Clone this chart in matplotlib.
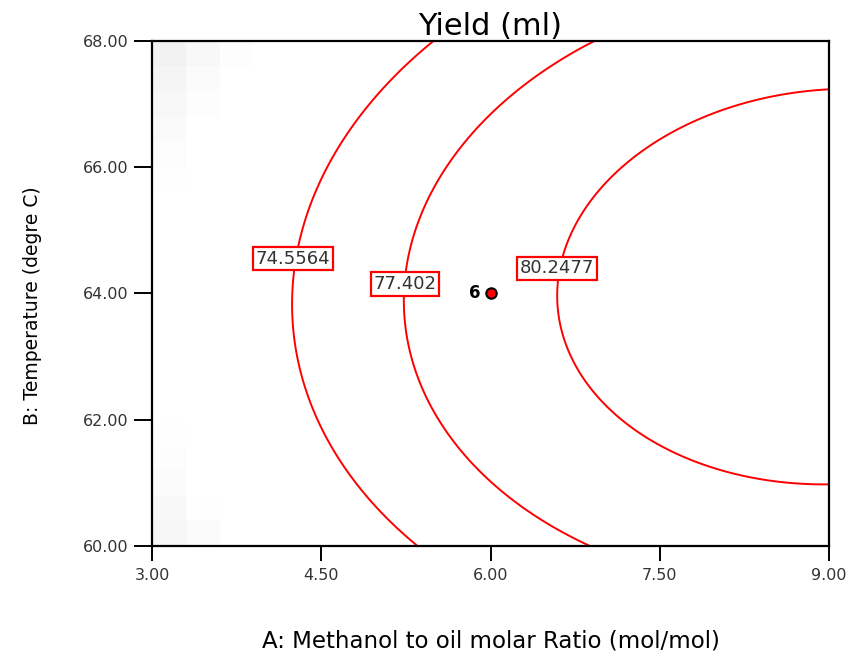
import numpy as np
import matplotlib.pyplot as plt
from matplotlib.colors import LinearSegmentedColormap

plt.rcParams['font.family'] = 'DejaVu Sans'

# factor ranges and ticks
a_ticks = [3.00, 4.50, 6.00, 7.50, 9.00]
b_ticks = [60.00, 62.00, 64.00, 66.00, 68.00]

# quadratic model in coded units: Intercept, A, B, AB, A^2, B^2
coef_values = [79.16, 6.11, -0.115, 0.29, -2.99, -3.325]

contour_levels = [74.5564, 77.402, 80.2477]
label_a = [4.25, 5.24, 6.59]
label_b = [64.55, 64.15, 64.40]

# center point of the design and its replicate count
design_a = [6.00]
design_b = [64.00]
design_reps = [6]


def yield_model(a, b):
    x1 = (a - 6.0) / 3.0
    x2 = (b - 64.0) / 4.0
    b0, b1, b2, b12, b11, b22 = coef_values
    return b0 + b1 * x1 + b2 * x2 + b12 * x1 * x2 + b11 * x1 ** 2 + b22 * x2 ** 2


fig = plt.figure(figsize=(8.58, 6.59), dpi=100)
ax = fig.add_axes([0.1772, 0.1715, 0.789, 0.7663])

# coarse background shading of the response
ca = np.linspace(3.15, 8.85, 20)
cb = np.linspace(60.2, 67.8, 20)
CA, CB = np.meshgrid(ca, cb)
shade = LinearSegmentedColormap.from_list('shade', ['#efefef', '#ffffff'])
ax.imshow(yield_model(CA, CB), extent=[3, 9, 60, 68], origin='lower', aspect='auto',
          cmap=shade, vmin=66.5, vmax=69.9, interpolation='nearest', zorder=0)

ga = np.linspace(3, 9, 300)
gb = np.linspace(60, 68, 300)
GA, GB = np.meshgrid(ga, gb)
ax.contour(GA, GB, yield_model(GA, GB), levels=contour_levels, colors='#ff0000',
           linewidths=1.4, zorder=2)

for lev, xa, yb in zip(contour_levels, label_a, label_b):
    ax.text(xa, yb, f'{lev:g}', ha='center', va='center', fontsize=13, color='#333333',
            bbox=dict(boxstyle='square,pad=0.15', fc='white', ec='#ff0000', lw=1.6), zorder=3)

ax.plot(design_a, design_b, 'o', ms=7.5, mfc='#ff0000', mec='black', mew=1.5, zorder=4)
for xa, yb, n in zip(design_a, design_b, design_reps):
    ax.annotate(str(n), (xa, yb), xytext=(-7, 0), textcoords='offset points',
                ha='right', va='center', fontsize=12, fontweight='bold', color='black')

ax.set_xlim(3, 9)
ax.set_ylim(60, 68)
ax.set_xticks(a_ticks)
ax.set_yticks(b_ticks)
ax.set_xticklabels([f'{v:.2f}' for v in a_ticks])
ax.set_yticklabels([f'{v:.2f}' for v in b_ticks])
ax.tick_params(axis='x', direction='out', length=11, width=1.4, pad=5,
               labelsize=11.5, labelcolor='#333333')
ax.tick_params(axis='y', direction='out', length=13, width=1.4, pad=4,
               labelsize=11.5, labelcolor='#333333')
for sp in ax.spines.values():
    sp.set_linewidth(1.6)

ax.set_title('Yield (ml)', fontsize=22, pad=2)
ax.set_xlabel('A: Methanol to oil molar Ratio (mol/mol)', fontsize=16.5)
ax.set_ylabel('B: Temperature (degre C)', fontsize=13.5)
ax.xaxis.set_label_coords(0.5, -0.166)
ax.yaxis.set_label_coords(-0.163, 0.475)

fig.savefig('out.png', dpi=100)
